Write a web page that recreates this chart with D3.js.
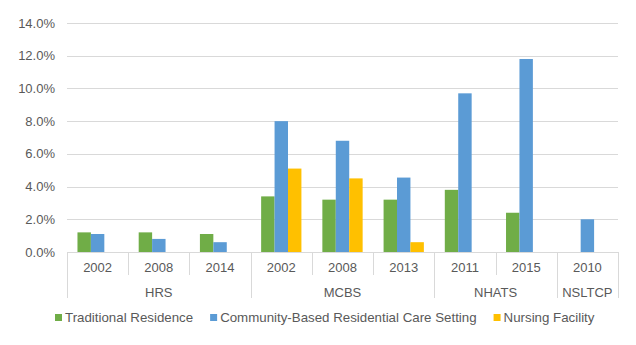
<!DOCTYPE html>
<html>
  <head>
    <script src="https://d3js.org/d3.v7.min.js"></script>
    <style>
      body { margin: 0; background: #fff; }
      text { font-family: "Liberation Sans", Arial, sans-serif; fill: #595959; }
    </style>
  </head>
  <body>
    <script>

    // survey groups and their years
    var groups = ["HRS", "MCBS", "NHATS", "NSLTCP"];
    var groupYears = [
      ["2002", "2008", "2014"],
      ["2002", "2008", "2013"],
      ["2011", "2015"],
      ["2010"]
    ];
    var seriesNames = ["Traditional Residence", "Community-Based Residential Care Setting", "Nursing Facility"];
    var colors = ["#70AD47", "#5B9BD5", "#FFC000"];

    // percent values, one entry per year column (null = no bar)
    var traditional = [1.2, 1.2, 1.1, 3.4, 3.2, 3.2, 3.8, 2.4, null];
    var community   = [1.1, 0.8, 0.6, 8.0, 6.8, 4.55, 9.7, 11.8, 2.0];
    var nursing     = [null, null, null, 5.1, 4.5, 0.6, null, null, null];
    var yTicks = [0, 2, 4, 6, 8, 10, 12, 14];

    var w = 636, h = 345;
    var plotLeft = 67, plotRight = 618, plotTop = 23, plotBottom = 252;

    // flat list of columns
    var columns = [];
    groupYears.forEach(function(ys, gi) {
      ys.forEach(function(yr) { columns.push({ group: gi, year: yr }); });
    });
    var series = [traditional, community, nursing];

    var svg = d3.select("body").append("svg")
      .attr("width", w)
      .attr("height", h);

    var x = d3.scaleBand()
      .domain(d3.range(columns.length))
      .range([plotLeft, plotRight]);

    var xInner = d3.scaleBand()
      .domain(d3.range(3))
      .range([0, x.bandwidth()])
      .paddingInner(0)
      .paddingOuter(0.78);

    var y = d3.scaleLinear()
      .domain([0, 14])
      .range([plotBottom, plotTop]);

    // gridlines
    svg.selectAll("line.grid")
      .data(yTicks)
      .enter()
      .append("line")
      .attr("x1", plotLeft)
      .attr("x2", plotRight)
      .attr("y1", function(d) { return Math.round(y(d)) + 0.5; })
      .attr("y2", function(d) { return Math.round(y(d)) + 0.5; })
      .attr("stroke", "#D9D9D9")
      .attr("stroke-width", 1);

    // y labels
    svg.selectAll("text.ylab")
      .data(yTicks)
      .enter()
      .append("text")
      .attr("x", 55)
      .attr("y", function(d) { return y(d) + 4.5; })
      .attr("text-anchor", "end")
      .attr("font-size", "13px")
      .text(function(d) { return d.toFixed(1) + "%"; });

    // bars
    series.forEach(function(vals, si) {
      var pts = vals.map(function(v, i) { return { v: v, i: i }; })
        .filter(function(d) { return d.v !== null; });
      svg.selectAll("rect.s" + si)
        .data(pts)
        .enter()
        .append("rect")
        .attr("x", function(d) { return x(d.i) + xInner(si); })
        .attr("y", function(d) { return y(d.v); })
        .attr("width", xInner.bandwidth())
        .attr("height", function(d) { return y(0) - y(d.v); })
        .attr("fill", colors[si]);
    });

    // category separators below the axis
    var sepY = 275, grpY = 298;
    var groupStart = [];
    var idx = 0;
    groupYears.forEach(function(ys) { groupStart.push(idx); idx += ys.length; });

    d3.range(columns.length + 1).forEach(function(i) {
      var xx = Math.round(i < columns.length ? x(i) : plotRight) + 0.5;
      var isGroup = groupStart.indexOf(i) >= 0 || i === columns.length;
      svg.append("line")
        .attr("x1", xx).attr("x2", xx)
        .attr("y1", plotBottom).attr("y2", isGroup ? grpY : sepY)
        .attr("stroke", "#D9D9D9");
    });

    // year labels
    svg.selectAll("text.year")
      .data(columns)
      .enter()
      .append("text")
      .attr("x", function(d, i) { return x(i) + x.bandwidth() / 2; })
      .attr("y", 272)
      .attr("text-anchor", "middle")
      .attr("font-size", "13px")
      .text(function(d) { return d.year; });

    // group labels
    svg.selectAll("text.group")
      .data(groups)
      .enter()
      .append("text")
      .attr("x", function(d, gi) {
        var s = groupStart[gi], n = groupYears[gi].length;
        return x(s) + n * x.bandwidth() / 2;
      })
      .attr("y", 297)
      .attr("text-anchor", "middle")
      .attr("font-size", "13px")
      .text(function(d) { return d; });

    // legend
    var lx = 55;
    seriesNames.forEach(function(name, si) {
      svg.append("rect")
        .attr("x", lx).attr("y", 314)
        .attr("width", 7).attr("height", 7)
        .attr("fill", colors[si]);
      var t = svg.append("text")
        .attr("x", lx + 10)
        .attr("y", 322)
        .attr("font-size", "13.3px")
        .text(name);
      lx += 10 + t.node().getComputedTextLength() + 17;
    });

    </script>
  </body>
</html>
